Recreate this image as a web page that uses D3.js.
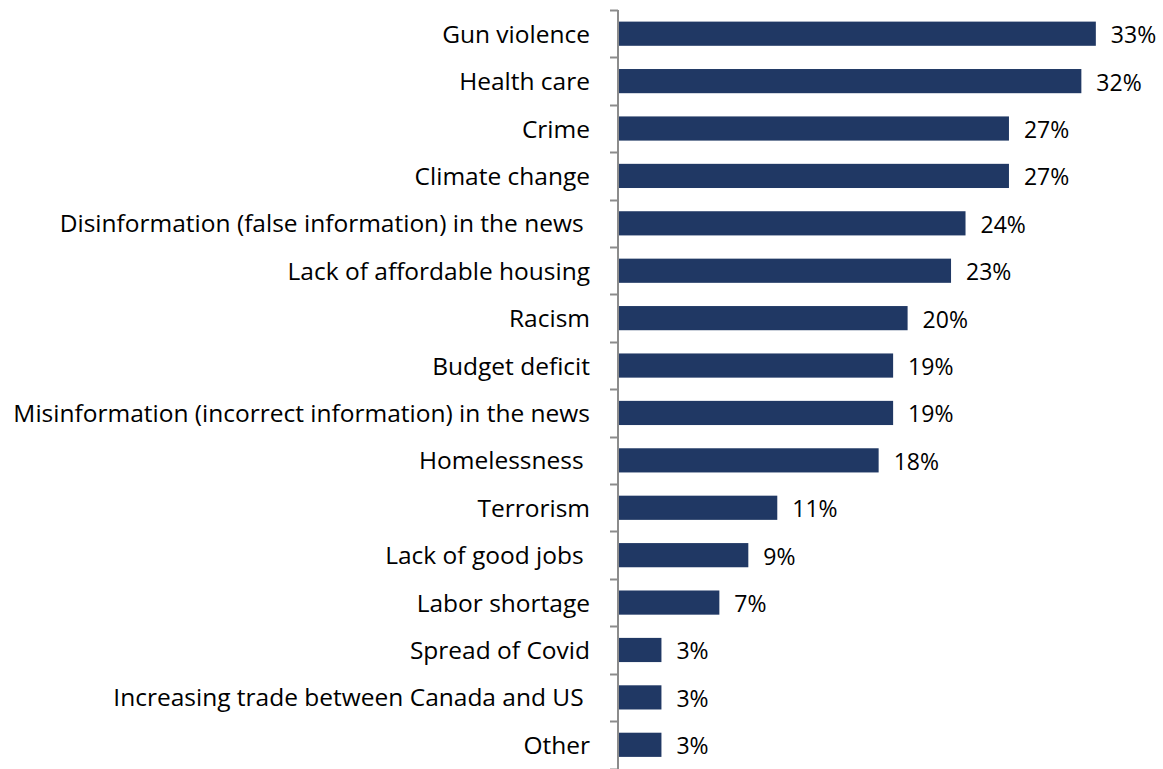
<!DOCTYPE html>
<html>
<head>
<meta charset="utf-8">
<script src="https://cdn.jsdelivr.net/npm/d3@7"></script>
<style>
  html, body { margin: 0; padding: 0; background: #ffffff; }
  svg { display: block; }
  text { font-family: "Open Sans", Lato, sans-serif; fill: #000; white-space: pre; }
</style>
</head>
<body>
<svg id="chart" width="1163" height="769"></svg>
<script>
// Issues named as concerns, with share of respondents (%)
const categories = [
  "Gun violence",
  "Health care",
  "Crime",
  "Climate change",
  "Disinformation (false information) in the news ",
  "Lack of affordable housing",
  "Racism",
  "Budget deficit",
  "Misinformation (incorrect information) in the news",
  "Homelessness ",
  "Terrorism",
  "Lack of good jobs ",
  "Labor shortage",
  "Spread of Covid",
  "Increasing trade between Canada and US ",
  "Other"
];
const values = [33, 32, 27, 27, 24, 23, 20, 19, 19, 18, 11, 9, 7, 3, 3, 3];
const valueLabels = ["33%", "32%", "27%", "27%", "24%", "23%", "20%", "19%", "19%", "18%", "11%", "9%", "7%", "3%", "3%", "3%"];

const svg = d3.select("#chart");
const axisX = 618;
const plotTop = 10, plotBottom = 768.5;

const y = d3.scaleBand()
  .domain(categories)
  .range([plotTop, plotBottom])
  .paddingInner(0.49)
  .paddingOuter(0.245);

const x = d3.scaleLinear()
  .domain([0, 33])
  .range([axisX, axisX + 33 * 14.48]);

const rows = categories.map((c, i) => ({ cat: c, value: values[i], label: valueLabels[i] }));

// Bars
svg.append("g")
  .selectAll("rect")
  .data(rows)
  .join("rect")
  .attr("x", x(0))
  .attr("y", d => y(d.cat))
  .attr("width", d => x(d.value) - x(0))
  .attr("height", y.bandwidth())
  .attr("fill", "#203864");

// Category axis with tick marks between categories
const step = y.step();
const tickYs = d3.range(categories.length + 1).map(i => plotTop + i * step);
const axisG = svg.append("g");
axisG.append("line")
  .attr("x1", axisX).attr("x2", axisX)
  .attr("y1", plotTop).attr("y2", 769)
  .attr("stroke", "#8c8c8c").attr("stroke-width", 2);
axisG.selectAll("line.tick")
  .data(tickYs)
  .join("line")
  .attr("class", "tick")
  .attr("x1", axisX - 8).attr("x2", axisX)
  .attr("y1", d => Math.round(d) + 0.5).attr("y2", d => Math.round(d) + 0.5)
  .attr("stroke", "#8c8c8c").attr("stroke-width", 2);

// Category labels
svg.append("g")
  .selectAll("text")
  .data(rows)
  .join("text")
  .attr("x", 590)
  .attr("y", d => y(d.cat) + y.bandwidth() / 2)
  .attr("dy", "0.37em")
  .attr("text-anchor", "end")
  .attr("font-size", 24.5)
  .text(d => d.cat);

// Value labels
svg.append("g")
  .selectAll("text")
  .data(rows)
  .join("text")
  .attr("x", d => x(d.value) + 15)
  .attr("y", d => y(d.cat) + y.bandwidth() / 2)
  .attr("dy", "0.41em")
  .attr("font-size", 23)
  .text(d => d.label);
</script>
</body>
</html>
